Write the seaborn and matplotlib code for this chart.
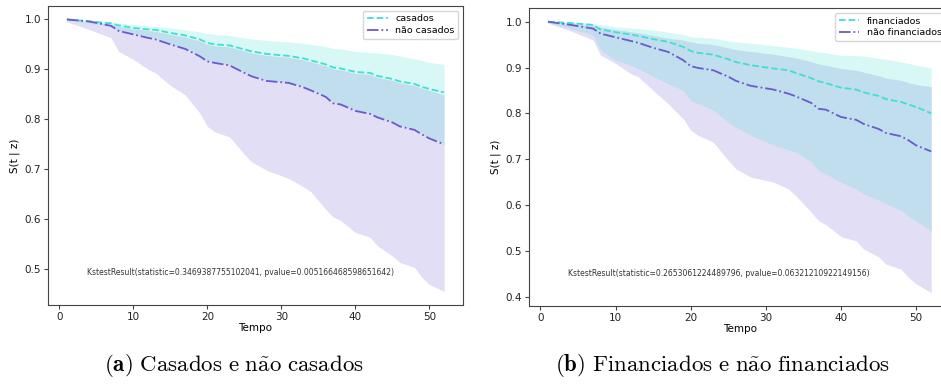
import matplotlib
matplotlib.use("Agg")
import matplotlib.pyplot as plt
import seaborn as sns

# tempos (nós comuns às curvas)
tempo = [1, 4, 7, 8, 10, 12, 13, 15, 17, 19, 20, 21, 23, 25, 26, 28, 31, 33, 34, 36,
         37, 38, 40, 42, 43, 45, 46, 48, 49, 50, 52]

# (a) casados x não casados
casados = [1.0, .996, .992, .988, .983, .980, .979, .973, .968, .960, .953, .950, .948, .940,
           .936, .931, .927, .922, .918, .910, .904, .902, .895, .893, .887, .881, .876, .871,
           .865, .861, .854]
casados_sup = [1.0, .998, .995, .993, .990, .987, .986, .983, .979, .975, .972, .970, .968, .963,
               .961, .958, .955, .952, .950, .946, .942, .941, .936, .934, .933, .930, .927, .921,
               .918, .914, .910]
casados_inf = [.998, .993, .987, .978, .972, .965, .962, .952, .943, .928, .918, .915, .910, .895,
               .888, .879, .874, .866, .860, .847, .834, .832, .819, .813, .806, .796, .788, .781,
               .772, .764, .752]
nao_casados = [1.0, .996, .987, .977, .970, .963, .960, .950, .941, .926, .916, .913, .908, .893,
               .886, .877, .873, .864, .858, .845, .832, .830, .817, .811, .804, .794, .786, .779,
               .770, .762, .750]
nao_casados_sup = [1.0, .995, .990, .986, .981, .978, .976, .970, .965, .957, .950, .947, .945, .937,
                   .933, .928, .924, .919, .915, .907, .901, .899, .892, .890, .884, .878, .873,
                   .868, .862, .858, .849]
nao_casados_inf = [.995, .980, .963, .936, .920, .900, .893, .868, .849, .812, .786, .775, .765, .730,
                   .715, .698, .682, .665, .655, .620, .605, .598, .574, .564, .547, .527, .514,
                   .504, .484, .470, .456]

# (b) financiados x não financiados
financiados = [1.0, .997, .993, .983, .977, .972, .969, .962, .956, .945, .936, .932, .928, .918,
               .912, .905, .898, .894, .888, .877, .870, .866, .856, .852, .846, .838, .831, .825,
               .819, .814, .800]
financiados_sup = [1.0, .999, .996, .994, .989, .986, .985, .982, .977, .972, .967, .966, .964, .958,
                   .956, .953, .948, .944, .942, .937, .934, .932, .927, .926, .925, .920, .918,
                   .912, .909, .905, .900]
financiados_inf = [.998, .985, .971, .938, .916, .905, .898, .880, .865, .850, .828, .821, .807, .780,
                   .770, .752, .731, .720, .715, .695, .675, .668, .650, .635, .624, .611, .603,
                   .588, .575, .565, .544]
nao_financiados = [1.0, .993, .985, .974, .966, .958, .954, .943, .934, .916, .903, .899, .894, .880,
                   .871, .860, .852, .843, .837, .823, .810, .808, .792, .786, .777, .766, .757,
                   .750, .741, .730, .717]
nao_financiados_sup = [1.0, .997, .993, .988, .983, .978, .976, .970, .964, .960, .956, .953, .950,
                       .943, .939, .935, .929, .924, .921, .913, .908, .905, .898, .894, .890, .882,
                       .877, .872, .867, .863, .858]
nao_financiados_inf = [.997, .980, .960, .927, .909, .887, .880, .850, .821, .788, .763, .752, .737,
                       .697, .679, .661, .650, .635, .620, .585, .566, .557, .531, .522, .504, .487,
                       .471, .460, .442, .428, .409]

ks_a = "KstestResult(statistic=0.3469387755102041, pvalue=0.005166468598651642)"
ks_b = "KstestResult(statistic=0.2653061224489796, pvalue=0.06321210922149156)"

plt.rcParams["mathtext.fontset"] = "cm"
plt.rcParams["axes.edgecolor"] = "#444444"
plt.rcParams["xtick.color"] = "#444444"
plt.rcParams["ytick.color"] = "#444444"
plt.rcParams["xtick.labelcolor"] = "#222222"
plt.rcParams["ytick.labelcolor"] = "#222222"

fig = plt.figure(figsize=(9.41, 3.88), dpi=100)
ax1 = fig.add_axes([0.051, 0.214, 0.441, 0.771])
ax2 = fig.add_axes([0.562, 0.211, 0.448, 0.768])

paineis = [
    (ax1, casados, casados_sup, casados_inf, nao_casados, nao_casados_sup, nao_casados_inf,
     "casados", "não casados", ks_a),
    (ax2, financiados, financiados_sup, financiados_inf, nao_financiados, nao_financiados_sup,
     nao_financiados_inf, "financiados", "não financiados", ks_b),
]

for ax, s1, s1_sup, s1_inf, s2, s2_sup, s2_inf, lab1, lab2, ks in paineis:
    ax.fill_between(tempo, s2_inf, s2_sup, color="slateblue", alpha=0.2, linewidth=0)
    ax.fill_between(tempo, s1_inf, s1_sup, color="turquoise", alpha=0.2, linewidth=0)
    sns.lineplot(x=tempo, y=s1, ax=ax, color="turquoise", linestyle="--", linewidth=1.3, label=lab1)
    sns.lineplot(x=tempo, y=s2, ax=ax, color="slateblue", linestyle="-.", linewidth=1.3, label=lab2)
    ax.set_xlabel("Tempo", fontsize=7.5, labelpad=1)
    ax.set_ylabel("S(t | z)", fontsize=7.5, labelpad=3)
    ax.tick_params(labelsize=7.5, length=3, pad=2)
    ax.set_xticks([0, 10, 20, 30, 40, 50])
    ax.text(0.093, 0.108, ks, transform=ax.transAxes, fontsize=5.5, color="#333333", va="center")
    ax.legend(loc="upper right", fontsize=6.8, handlelength=2.2, borderpad=0.4, labelspacing=0.3)

fig.text(0.249, 0.057, r"$\mathbf{(a)}\ \mathrm{Casados\ e\ n\tilde{a}o\ casados}$",
         fontsize=16.5, ha="center", va="center")
fig.text(0.768, 0.057, r"$\mathbf{(b)}\ \mathrm{Financiados\ e\ n\tilde{a}o\ financiados}$",
         fontsize=16.5, ha="center", va="center")

fig.savefig("out.png", dpi=100)
